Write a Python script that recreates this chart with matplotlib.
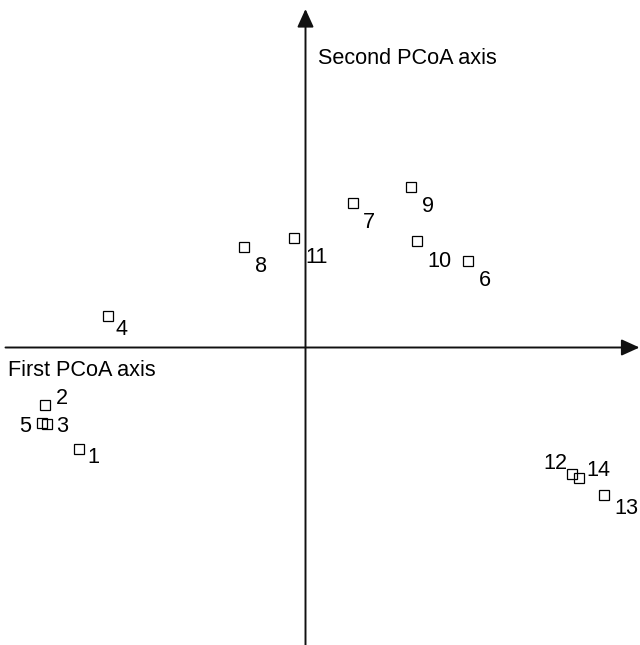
import matplotlib
matplotlib.use("Agg")
import matplotlib.pyplot as plt

plt.rcParams['font.family'] = ['Liberation Sans', 'DejaVu Sans']

# site scores on the first two PCoA axes
sites = ['1', '2', '3', '4', '5', '6', '7', '8', '9', '10', '11', '12', '13', '14']
axis1 = [-2.265, -2.605, -2.588, -1.978, -2.632, 1.628, 0.478, -0.612, 1.055, 1.118, -0.112, 2.662, 2.985, 2.738]
axis2 = [-1.015, -0.575, -0.765, 0.318, -0.752, 0.865, 1.442, 1.002, 1.608, 1.065, 1.092, -1.268, -1.475, -1.302]

# label offsets in points, relative to each marker
offsets = {
    '1': (10, -6), '2': (12, 5), '3': (11, -2), '4': (10, -10), '5': (-12.5, -3),
    '6': (12, -14), '7': (11, -14), '8': (12, -14), '9': (12, -14), '10': (16, -15),
    '11': (16, -14), '12': (-12, 8), '13': (16, -10), '14': (13.5, 5),
}

fig = plt.figure(figsize=(6.4, 6.45), dpi=100)
ax = fig.add_axes([0, 0, 1, 1])
ax.axis('off')
ax.set_xlim(-3.055, 3.345)
ax.set_ylim(-2.975, 3.475)

arrow = dict(arrowstyle='-|>,head_length=1.1,head_width=0.5', mutation_scale=10,
             lw=1.4, color='#111111', shrinkA=0, shrinkB=0)
ax.annotate('', xy=(0, 3.385), xytext=(0, -2.975), arrowprops=arrow)
ax.annotate('', xy=(3.34, 0), xytext=(-3.0, 0), arrowprops=arrow)

ax.plot(axis1, axis2, 's', ms=7.2, mfc='none', mec='black', mew=0.9, ls='none')

for name, x, y in zip(sites, axis1, axis2):
    ax.annotate(name, (x, y), xytext=offsets[name], textcoords='offset points',
                ha='center', va='center', fontsize=15.6)

ax.text(0.125, 2.885, 'Second PCoA axis', ha='left', va='center', fontsize=15.6)
ax.text(-2.975, -0.228, 'First PCoA axis', ha='left', va='center', fontsize=15.6)

plt.savefig('out.png', dpi=100)
plt.close()
